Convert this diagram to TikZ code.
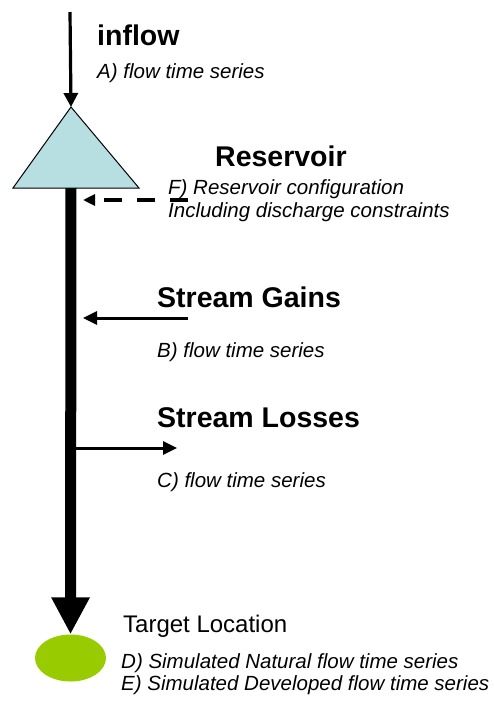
\documentclass[tikz,border=0pt]{standalone}
\usepackage{fontspec}
\setmainfont{Liberation Sans}
\usetikzlibrary{arrows.meta,shapes.geometric}
\definecolor{resblue}{RGB}{183,222,224}
\definecolor{tgtgreen}{RGB}{153,204,0}
\begin{document}
\begin{tikzpicture}[x=1pt,y=-1pt,
  title/.style={font=\fontsize{28.5}{32}\selectfont\bfseries, anchor=base west, inner sep=0pt},
  note/.style={font=\fontsize{20.5}{23}\selectfont\itshape, anchor=base west, inner sep=0pt},
  plain/.style={font=\fontsize{24}{27}\selectfont, anchor=base west, inner sep=0pt},
  flowarrow/.style={line width=3pt, -{Triangle[length=14pt,width=13pt]}},
]
\useasboundingbox (0,0) rectangle (494,702);
% coordinates
\coordinate (inTop) at (70,12);
\coordinate (apex) at (71,107);
\coordinate (bl) at (13,188);
\coordinate (br) at (139,188);
\coordinate (baseMid) at (71,188);
\coordinate (cfgStart) at (188,200);
\coordinate (cfgEnd) at (83,200);
\coordinate (gainStart) at (188,318);
\coordinate (gainEnd) at (83,318);
\coordinate (lossStart) at (71,448);
\coordinate (lossEnd) at (177,448);
% target
\node[ellipse, fill=tgtgreen, minimum width=71pt, minimum height=47pt, inner sep=0pt] (target) at (70.5,658) {};
% main river
\draw[line width=11pt, -{Triangle[length=37pt,width=36pt]}] (baseMid) -- (target.north);
% reservoir
\filldraw[fill=resblue, draw=black, line width=1pt] (apex) -- (br) -- (bl) -- cycle;
% inflow
\draw[line width=3.2pt, -{Triangle[length=14pt,width=14pt]}] (inTop) -- (apex);
% config dashed
\draw[line width=4.5pt, dash pattern=on 18.5pt off 14.5pt, -{Triangle[length=12pt,width=11pt]}] (cfgStart) -- (cfgEnd);
% gains / losses
\draw[flowarrow] (gainStart) -- (gainEnd);
\draw[flowarrow] (lossStart) -- (lossEnd);
% labels
\node[title] (lblInflow) at (97,45) {inflow};
\node[note] (lblA) at (97,78) {A) flow time series};
\node[title] (lblRes) at (215,166) {Reservoir};
\node[note] (lblF1) at (168,194) {F) Reservoir configuration};
\node[note] (lblF2) at (168,217) {Including discharge constraints};
\node[title] (lblGains) at (157,307) {Stream Gains};
\node[note] (lblB) at (157,357) {B) flow time series};
\node[title] (lblLoss) at (157,427) {Stream Losses};
\node[note] (lblC) at (157,487) {C) flow time series};
\node[plain] (lblTarget) at (123,632) {Target Location};
\node[note] (lblD) at (121,668) {D) Simulated Natural flow time series};
\node[note] (lblE) at (121,690) {E) Simulated Developed flow time series};
\end{tikzpicture}
\end{document}
